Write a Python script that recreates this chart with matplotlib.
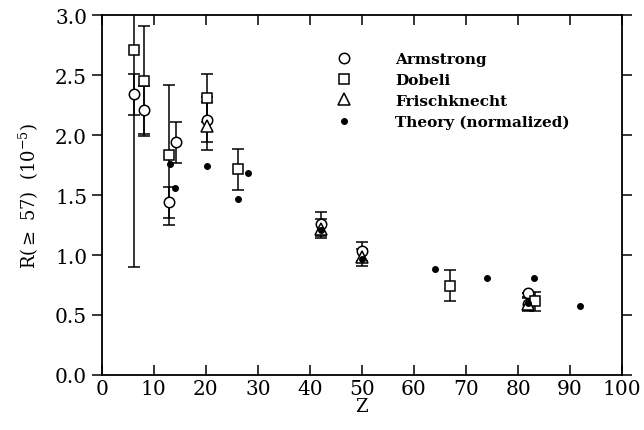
import matplotlib
matplotlib.use('Agg')
import matplotlib.pyplot as plt

plt.rcParams['font.family'] = 'DejaVu Serif'
plt.rcParams['mathtext.fontset'] = 'dejavuserif'

# Armstrong (circles)
armZ = [6.2, 8.2, 13.0, 14.2, 20.2, 42.1, 50.0, 82.0, 82.0]
armR = [2.34, 2.21, 1.44, 1.94, 2.13, 1.26, 1.03, 0.59, 0.68]
armE = [0.17, 0.20, 0.13, 0.17, 0.19, 0.10, 0.08, 0.06, 0.0]

# Dobeli (squares)
dobZ = [6.2, 8.2, 13.0, 20.2, 26.1, 67.0, 83.2]
dobR = [2.71, 2.45, 1.835, 2.31, 1.715, 0.745, 0.613]
dobE = [1.81, 0.46, 0.585, 0.20, 0.17, 0.13, 0.08]

# Frischknecht (triangles)
friZ = [20.2, 42.1, 50.0, 82.0]
friR = [2.08, 1.22, 0.98, 0.59]
friE = [0.20, 0.08, 0.07, 0.05]

# Theory (normalized)
thZ = [13.1, 14.1, 20.2, 26.1, 28.1, 42.1, 50.0, 64.1, 74.1, 82.0, 83.1, 92.0]
thR = [1.76, 1.556, 1.746, 1.467, 1.685, 1.21, 0.97, 0.881, 0.812, 0.60, 0.806, 0.572]

fig = plt.figure(figsize=(6.44, 4.31), dpi=100)
ax = fig.add_axes([0.158, 0.128, 0.808, 0.834])

eb = dict(fmt='none', ecolor='k', elinewidth=1.1, capsize=4.5, capthick=1.1)
ax.errorbar(dobZ, dobR, yerr=dobE, **eb)
ax.errorbar(armZ, armR, yerr=armE, **eb)
ax.errorbar(friZ, friR, yerr=friE, **eb)

ax.plot(armZ, armR, 'o', mfc='white', mec='k', mew=1.1, ms=7.5, label='Armstrong')
ax.plot(dobZ, dobR, 's', mfc='white', mec='k', mew=1.1, ms=7.5, label='Dobeli')
ax.plot(friZ, friR, '^', mfc='white', mec='k', mew=1.1, ms=8, label='Frischknecht')
ax.plot(thZ, thR, 'o', color='k', ms=4, label='Theory (normalized)')

ax.set_xlim(0, 100)
ax.set_ylim(0, 3.0)
ax.set_xticks(range(0, 101, 10))
ax.set_yticks([0.0, 0.5, 1.0, 1.5, 2.0, 2.5, 3.0])
ax.set_yticklabels(['%.1f' % v for v in [0.0, 0.5, 1.0, 1.5, 2.0, 2.5, 3.0]])
ax.tick_params(axis='x', direction='in', top=True, length=7, width=1.1, labelsize=14.5, pad=3)
ax.tick_params(axis='y', direction='out', right=True, length=7, width=1.1, labelsize=14.5)
for s in ax.spines.values():
    s.set_linewidth(1.3)

ax.set_xlabel('Z', fontsize=13, labelpad=-1)
ax.set_ylabel(r'R($\geq$ 57)  (10$^{-5}$)', fontsize=13, labelpad=10)

ax.legend(loc='upper left', bbox_to_anchor=(0.44, 0.915), frameon=False,
          prop={'weight': 'bold', 'size': 11}, handlelength=1.0,
          handletextpad=2.8, labelspacing=0.45, borderaxespad=0)

fig.savefig('out.png', dpi=100)
